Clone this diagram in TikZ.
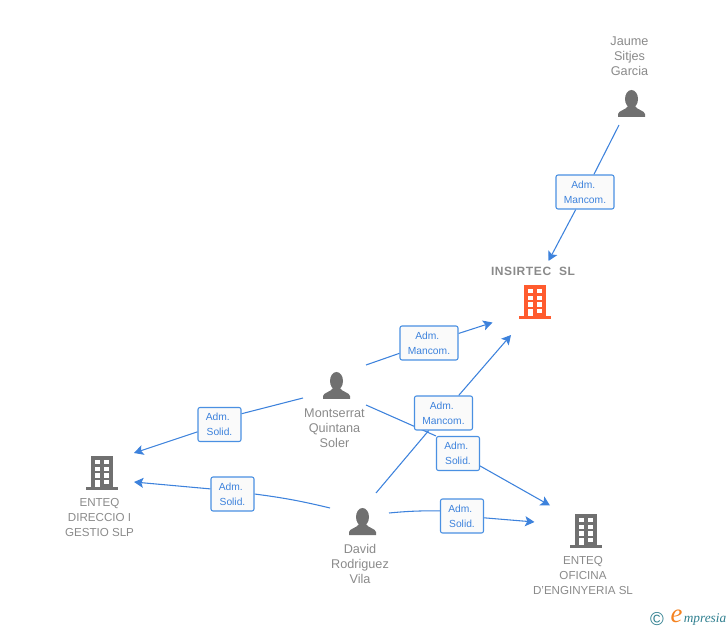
\documentclass[tikz,border=0pt]{standalone}
\usepackage{fontspec}
\setmainfont{Liberation Sans}
\newfontfamily\logofont{Liberation Serif}
\usetikzlibrary{arrows.meta,backgrounds}
\definecolor{linkblue}{HTML}{3D82DC}
\definecolor{boxblue}{HTML}{4A90E2}
\definecolor{labelgray}{HTML}{8A8A8A}
\definecolor{icongray}{HTML}{707070}
\definecolor{mainorange}{HTML}{FF5B2E}
\definecolor{logoteal}{HTML}{2F7F8F}
\definecolor{logoorange}{HTML}{F58220}
\newcommand{\adm}{Adm.\hspace*{2.5pt}}
\tikzset{role/.style = {font=\fontsize{7.7}{11.25}\selectfont, text=linkblue, align=center, draw=boxblue, line width=0.8pt, rounded corners=1.5pt, fill=white!98!black, inner sep=0pt, minimum height=25.5pt}}
\tikzset{mancom/.style = {role, minimum width=43.5pt}}
\tikzset{solidrole/.style = {role, minimum width=32.25pt}}
\tikzset{person label/.style = {font=\fontsize{9.5}{11.25}\selectfont, text=labelgray, align=center, inner sep=0pt}}
\tikzset{firm label/.style = {font=\fontsize{8.7}{11.25}\selectfont, text=labelgray, align=center, inner sep=0pt}}
\tikzset{link/.style = {draw=linkblue, line width=0.8pt}}
\tikzset{tip/.style = {link, -{Stealth[length=7pt,width=7.5pt,inset=1.5pt]}}}
\tikzset{pics/person/.style = {code={
  \fill[icongray] (13.5,9) ellipse [x radius=6.5, y radius=9];
  \fill[icongray] (0,27) -- (0,24) .. controls (0.5,20.5) and (8,20) .. (10,16) -- (17,16) .. controls (19,20) and (26.5,20.5) .. (27,24) -- (27,27) -- cycle;
}}}
\tikzset{pics/building/.style = {code={
  \fill[#1] (5,0) rectangle (27,32);
  \fill[#1] (0,31) rectangle (32,34);
  \foreach \wy in {4,10.7,17.4} {
    \fill[white] (9,\wy) rectangle ++(5,4.4);
    \fill[white] (18,\wy) rectangle ++(5,4.4);
  }
  \fill[white] (9,24) rectangle (14,31);
  \fill[white] (18,24) rectangle ++(5,4.4);
}}}
\begin{document}
\begin{tikzpicture}[x=0.75pt,y=-0.75pt]
\useasboundingbox (0,0) rectangle (728,630);
% people
\pic at (618,90) {person};
\pic at (323,372) {person};
\pic at (349,508) {person};
\node[person label](jaume) at (629.5,56) {Jaume\\Sitjes\\Garcia};
\node[person label](montserrat) at (334.5,428) {Montserrat\\Quintana\\Soler};
\node[person label](david) at (360,564) {David\\Rodriguez\\Vila};
% companies
\pic at (519,285) {building=mainorange};
\pic at (86,456) {building=icongray};
\pic at (570,514) {building=icongray};
\node[firm label,font=\fontsize{9}{11.25}\selectfont\bfseries\addfontfeatures{LetterSpace=5}](insirtec) at (533,271) {INSIRTEC\ \ SL};
\node[firm label](direccio) at (99.5,518) {ENTEQ\\DIRECCIO I\\GESTIO SLP};
\node[firm label](oficina) at (583,576) {ENTEQ\\OFICINA\\D'ENGINYERIA SL};
% roles
\node[mancom](r1) at (585,192) {\adm\\Mancom.};
\node[mancom](r2) at (429,343) {\adm\\Mancom.};
\node[mancom](r3) at (443.5,413) {\adm\\Mancom.};
\node[solidrole](r4) at (458,453.5) {\adm\\Solid.};
\node[solidrole](r5) at (219.5,424.5) {\adm\\Solid.};
\node[solidrole](r6) at (232.5,494) {\adm\\Solid.};
\node[solidrole](r7) at (462,516) {\adm\\Solid.};
% line ends
\coordinate (s1) at (619,125);
\coordinate (t1) at (548.5,261);
\coordinate (s2) at (366,365);
\coordinate (t2) at (492.5,322.5);
\coordinate (s3) at (376,493);
\coordinate (t3) at (511,335);
\coordinate (s4) at (366,405);
\coordinate (t4) at (550,505.5);
\coordinate (s5) at (303,398);
\coordinate (t5) at (134,453);
\coordinate (s6) at (330,508);
\coordinate (t6) at (134,482);
\coordinate (s7) at (389,513);
\coordinate (t7) at (534.5,522);
\begin{scope}[on background layer]
\draw[link] (s1) -- (r1);
\draw[tip] (r1) -- (t1);
\draw[link] (s2) -- (r2);
\draw[tip] (r2) -- (t2);
\draw[link] (s3) -- (r3);
\draw[tip] (r3) -- (t3);
\draw[link] (s4) -- (r4.north west);
\draw[tip] (r4) -- (t4);
\draw[link] (s5) -- (r5.26);
\draw[tip] (r5) -- (t5);
\draw[link] (s6) to[bend right=3] (r6.east);
\draw[tip] (r6.167) -- (t6);
\draw[link] (s7) to[bend left=3] (r7.167);
\draw[tip] (r7) -- (t7);
\end{scope}
% logo
\node[inner sep=0pt,text=logoteal,font=\fontsize{14}{14}\selectfont](copy) at (657,619) {©};
\node[inner sep=0pt,text=logoorange,font=\logofont\itshape\fontsize{20}{20}\selectfont](logoe) at (676.5,616.5) {e};
\node[inner sep=0pt,text=logoteal,font=\logofont\itshape\fontsize{10}{10}\selectfont,anchor=west](logotext) at (683.5,620) {mpresia};
\end{tikzpicture}
\end{document}
